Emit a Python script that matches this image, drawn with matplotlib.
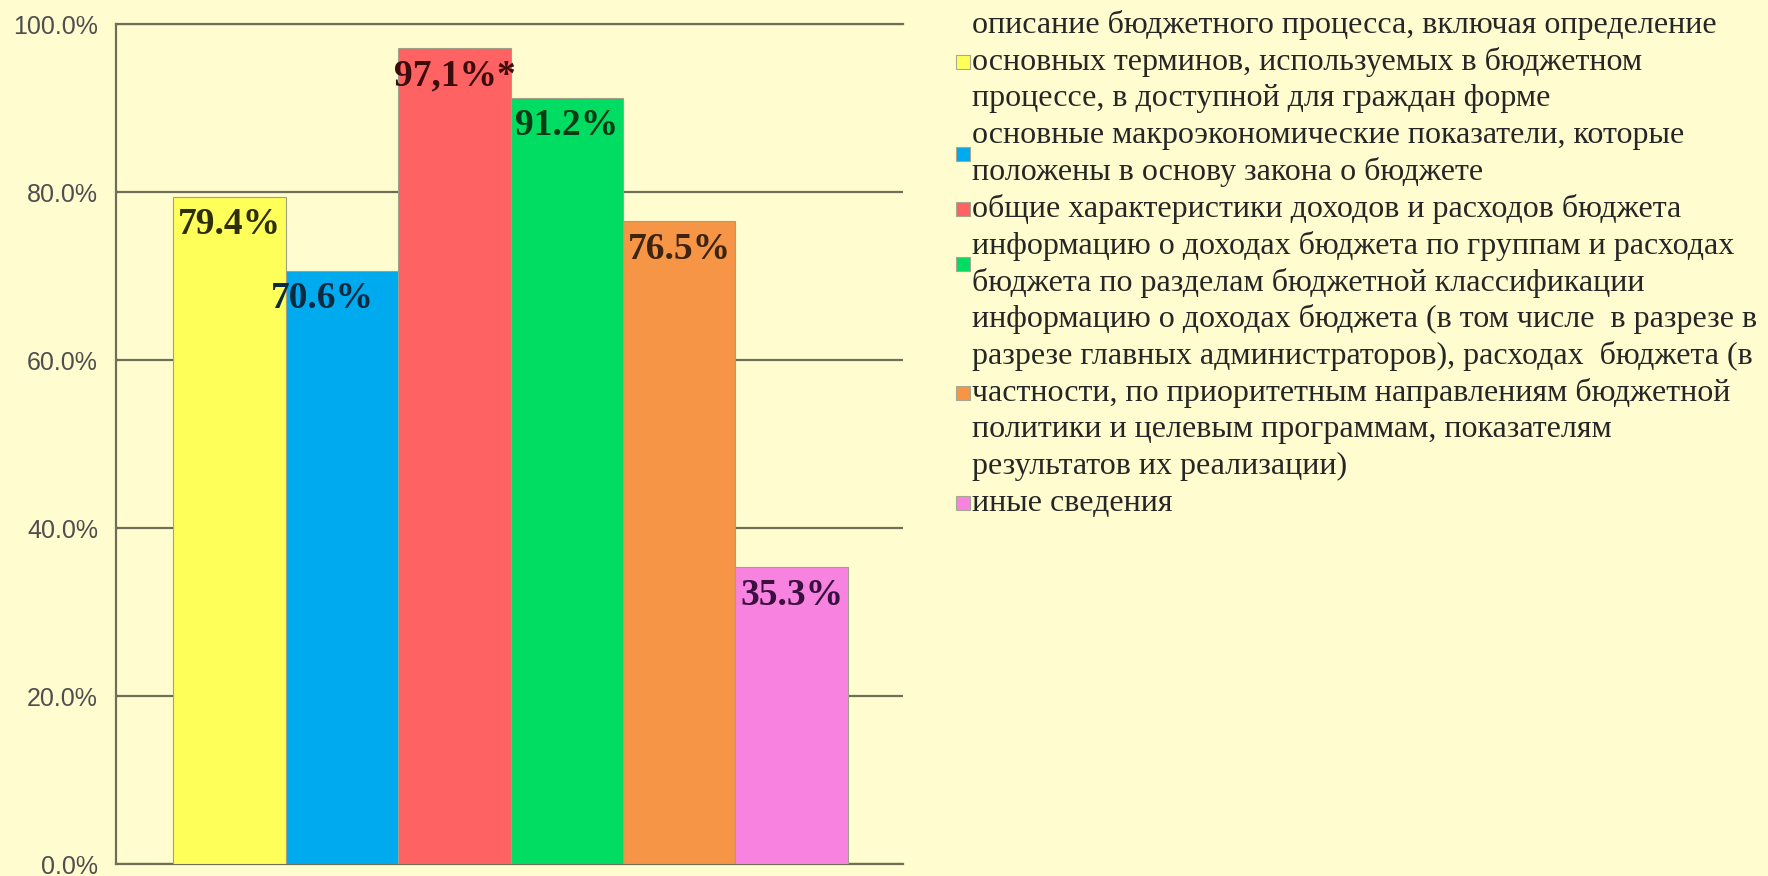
import matplotlib.pyplot as plt
from matplotlib.patches import Rectangle
from matplotlib.ticker import FuncFormatter

# data
series = [
    "описание бюджетного процесса, включая определение\nосновных терминов, используемых в бюджетном\nпроцессе, в доступной для граждан форме",
    "основные макроэкономические показатели, которые\nположены в основу закона о бюджете",
    "общие характеристики доходов и расходов бюджета",
    "информацию о доходах бюджета по группам и расходах\nбюджета по разделам бюджетной классификации",
    "информацию о доходах бюджета (в том числе  в разрезе в\nразрезе главных администраторов), расходах  бюджета (в\nчастности, по приоритетным направлениям бюджетной\nполитики и целевым программам, показателям\nрезультатов их реализации)",
    "иные сведения",
]
values = [79.4, 70.6, 97.1, 91.2, 76.5, 35.3]
value_labels = ["79.4%", "70.6%", "97,1%*", "91.2%", "76.5%", "35.3%"]
yticks = [0, 20, 40, 60, 80, 100]

colors = ["#ffff5a", "#00aaee", "#ff6262", "#00dd62", "#f59545", "#f882e0"]
label_colors = ["#2e2e08", "#0c2a40", "#3c0c0c", "#0a3a16", "#3c2410", "#3a1040"]
label_dx = [0, -14, 0, 0, 0, 0]  # points
bg = "#fffdd0"
gridc = "#6e6e58"

W, H = 1768, 876
fig = plt.figure(figsize=(W / 100, H / 100), dpi=100, facecolor=bg)
ax = fig.add_axes([116 / W, 1 - 864 / H, (903 - 116) / W, (864 - 24) / H])
ax.set_facecolor(bg)

x = list(range(len(values)))
bars = ax.bar(x, values, width=1.0, color=colors, edgecolor="#a09f88",
              linewidth=0.8, zorder=3)

for b, v, lab, c, dx in zip(bars, values, value_labels, label_colors, label_dx):
    ax.annotate(lab, (b.get_x() + b.get_width() / 2, v), xytext=(dx, -20),
                textcoords="offset points", ha="center", va="center",
                fontsize=27, fontweight="bold", family="Liberation Serif",
                color=c, zorder=4)

ax.set_xlim(-1.01, 5.99)
ax.set_ylim(0, 100)
ax.set_yticks(yticks)
ax.yaxis.set_major_formatter(FuncFormatter(lambda v, p: f"{v:.1f}%"))
ax.set_xticks([])
ax.tick_params(axis="y", length=0, pad=13, labelsize=18, labelcolor="#4e4e4e")
for t in ax.get_yticklabels():
    t.set_family("Liberation Sans")
ax.grid(axis="y", color=gridc, linewidth=1.6, zorder=1)
for s in ["left", "bottom", "top"]:
    ax.spines[s].set_color(gridc)
    ax.spines[s].set_linewidth(1.6)
ax.spines["right"].set_visible(False)

# legend drawn line by line, marker centred on each entry
line0 = 25
step = 36.8
n = 0
for lab, c in zip(series, colors):
    lines = lab.split("\n")
    for i, ln in enumerate(lines):
        fig.text(972 / W, 1 - (line0 + (n + i) * step) / H, ln,
                 ha="left", va="center", fontsize=23,
                 family="Liberation Serif", color="#262626")
    mid = line0 + (n + (len(lines) - 1) / 2) * step
    fig.add_artist(Rectangle((956 / W, 1 - (mid + 7) / H), 14 / W, 14 / H,
                             transform=fig.transFigure, facecolor=c,
                             edgecolor="#a8a890", linewidth=0.8))
    n += len(lines)

fig.savefig("out.png", dpi=100, facecolor=bg)
